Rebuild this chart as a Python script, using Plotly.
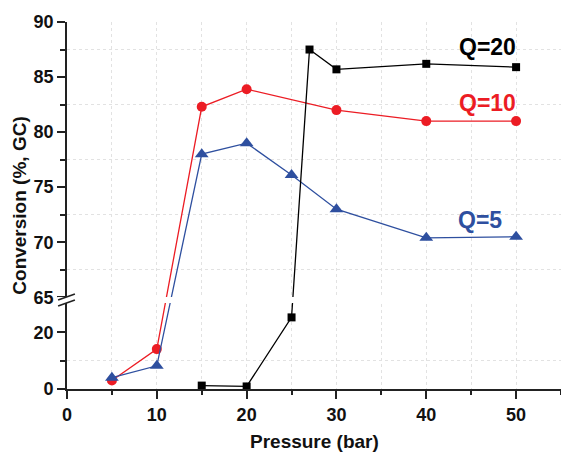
import plotly.graph_objects as go

# ---- data ----
pressure_q20 = [15, 20, 25, 27, 30, 40, 50]
conv_q20 = [1.2, 0.9, 25.3, 87.5, 85.7, 86.2, 85.9]

pressure_q10 = [5, 10, 15, 20, 30, 40, 50]
conv_q10 = [3.0, 14.1, 82.3, 83.9, 82.0, 81.0, 81.0]

pressure_q5 = [5, 10, 15, 20, 25, 30, 40, 50]
conv_q5 = [4.0, 8.2, 78.0, 79.0, 76.1, 73.0, 70.4, 70.5]

x_ticks = [0, 10, 20, 30, 40, 50]
y_major = [0, 20, 65, 70, 75, 80, 85, 90]
y_minor = [10, 67.5, 72.5, 77.5, 82.5, 87.5]

# ---- broken y-axis: lower segment 0-30, upper segment 65-90 ----
LO_MAX = 30
HI_MIN, HI_MAX = 65, 90
K_LO = 2.83      # display units per % in lower segment
K_HI = 11.01     # display units per % in upper segment
HI_OFF = 91.7    # display position of 65 %


def tr(v):
    if v <= LO_MAX:
        return v * K_LO
    return HI_OFF + (v - HI_MIN) * K_HI


def trl(vals):
    return [tr(v) for v in vals]


RED = "#EC1C24"
BLUE = "#2E4F9F"
BLACK = "#000000"
FONT = "Liberation Sans"

fig = go.Figure()
fig.add_trace(go.Scatter(x=pressure_q10, y=trl(conv_q10), mode="lines+markers",
                         line=dict(color=RED, width=1.3),
                         marker=dict(symbol="circle", size=10, color=RED),
                         cliponaxis=False, showlegend=False))
fig.add_trace(go.Scatter(x=pressure_q5, y=trl(conv_q5), mode="lines+markers",
                         line=dict(color=BLUE, width=1.3),
                         marker=dict(symbol="triangle-up", size=12, color=BLUE),
                         cliponaxis=False, showlegend=False))
fig.add_trace(go.Scatter(x=pressure_q20, y=trl(conv_q20), mode="lines+markers",
                         line=dict(color=BLACK, width=1.3),
                         marker=dict(symbol="square", size=8, color=BLACK),
                         cliponaxis=False, showlegend=False))

# break band (white) and break marks
b_lo, b_hi = 86.0, 92.0
shapes = [
    dict(type="rect", xref="paper", yref="y", x0=-0.02, x1=1.0, y0=b_lo, y1=b_hi,
         fillcolor="white", line=dict(width=0), layer="above"),
    dict(type="line", xref="paper", yref="y", x0=-0.018, x1=0.016, y0=b_hi - 3, y1=b_hi + 3,
         line=dict(color="#222", width=1.6), layer="above"),
    dict(type="line", xref="paper", yref="y", x0=-0.018, x1=0.016, y0=b_lo - 3, y1=b_lo + 3,
         line=dict(color="#222", width=1.6), layer="above"),
]

annotations = [
    dict(x=50.2, y=tr(87.75), text="<b>Q=20</b>", showarrow=False, xanchor="right",
         yanchor="middle", font=dict(family=FONT, size=23, color=BLACK)),
    dict(x=50.2, y=tr(82.6), text="<b>Q=10</b>", showarrow=False, xanchor="right",
         yanchor="middle", font=dict(family=FONT, size=23, color=RED)),
    dict(x=48.7, y=tr(72.0), text="<b>Q=5</b>", showarrow=False, xanchor="right",
         yanchor="middle", font=dict(family=FONT, size=23, color=BLUE)),
    dict(x=0.5, y=-0.144, xref="paper", yref="paper", text="<b>Pressure (bar)</b>",
         showarrow=False, xanchor="center", yanchor="middle", borderpad=0,
         font=dict(family=FONT, size=19, color="#111")),
]

fig.update_layout(
    width=561, height=454,
    margin=dict(l=67, r=0, t=22, b=65),
    paper_bgcolor="white", plot_bgcolor="white",
    font=dict(family=FONT, color="#111"),
    shapes=shapes, annotations=annotations,
    xaxis=dict(
        range=[0, 55], tickmode="array", tickvals=x_ticks,
        ticktext=[f"<b>{v}</b>" for v in x_ticks],
        tickfont=dict(family=FONT, size=18, color="#111"),
        ticks="outside", ticklen=8, tickwidth=1.5, tickcolor="#222",
        showline=True, linecolor="#222", linewidth=1.8,
        showgrid=False, zeroline=False, automargin=False,
        minor=dict(dtick=5, tick0=0, ticks="outside", ticklen=4, tickwidth=1.5,
                   tickcolor="#222", showgrid=True, gridcolor="#E2E2E2",
                   griddash="dot", gridwidth=1),
    ),
    yaxis=dict(
        range=[0, tr(HI_MAX)], tickmode="array", tickvals=trl(y_major),
        ticktext=[f"<b>{v}</b>" for v in y_major],
        tickfont=dict(family=FONT, size=18, color="#111"),
        ticks="outside", ticklen=8, tickwidth=1.5, tickcolor="#222",
        showline=True, linecolor="#222", linewidth=1.8,
        showgrid=False, zeroline=False, automargin=False,
        minor=dict(tickmode="array", tickvals=trl(y_minor), ticks="outside", ticklen=5,
                   tickwidth=1.5, tickcolor="#222", showgrid=True, gridcolor="#E2E2E2",
                   griddash="dot", gridwidth=1),
        title=dict(text="<b>Conversion (%, GC)</b>", font=dict(family=FONT, size=19, color="#111"),
                   standoff=2),
    ),
)

fig.write_html("out.html")
